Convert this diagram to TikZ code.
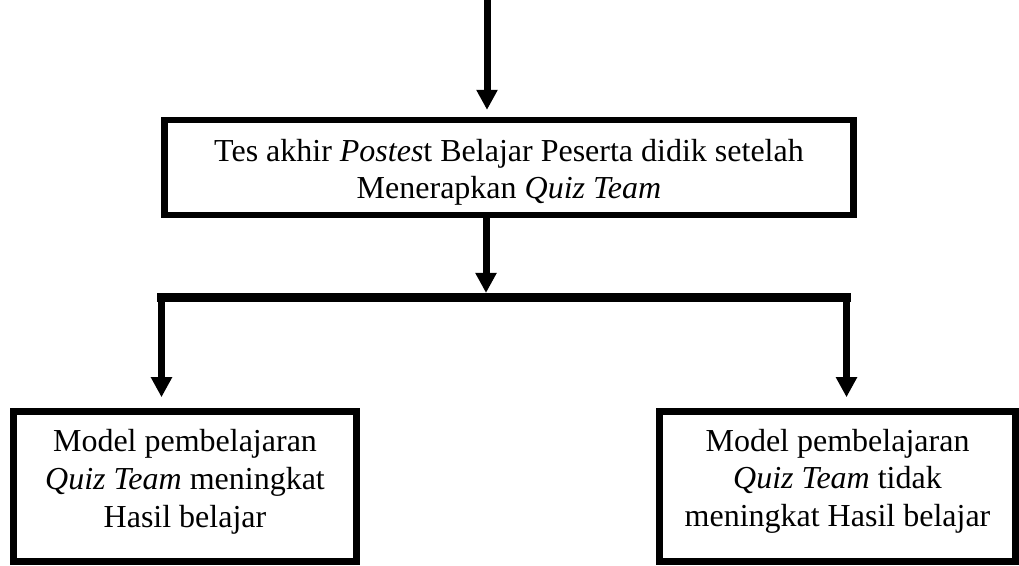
\documentclass[tikz,border=0pt]{standalone}
\usepackage{fontspec}
\setmainfont{Liberation Serif}
\usetikzlibrary{arrows.meta}
\tikzset{
  kotak/.style={draw, line width=4.9pt, align=center, inner sep=0pt,
    text depth=5pt, font=\fontsize{24}{28.2}\selectfont},
  panah/.style={line width=5.25pt, -{Triangle[width=15pt,length=15pt]}},
  garis/.style={line width=6.75pt, line cap=rect},
}
\begin{document}
\begin{tikzpicture}[x=0.75pt,y=0.75pt,yscale=-1,xscale=1]
\useasboundingbox (0,0) rectangle (1019,565);

% Kotak Posttest
\node[kotak, minimum width=517pt, minimum height=71pt, text height=51.65pt] (posttest) at (509,167.5)
  {Tes akhir \textit{Postes}t Belajar Peserta didik setelah\\ Menerapkan \textit{Quiz Team}};
% Kotak hasil
\node[kotak, minimum width=257pt, minimum height=112.5pt, text height=66pt] (naik) at (185,486.5)
  {Model pembelajaran\\ \textit{Quiz Team} meningkat\\ Hasil belajar};
\node[kotak, minimum width=267pt, minimum height=112.5pt, text height=65pt] (tidaknaik) at (837.5,486.5)
  {Model pembelajaran\\ \textit{Quiz Team} tidak\\ meningkat Hasil belajar};

% Titik bantu
\coordinate (mulai) at (487,0);
\coordinate (cabang) at (486,297.5);
\coordinate (kiri) at (161.5,297.5);
\coordinate (kanan) at (846.5,297.5);

% Panah
\draw[panah, shorten >=5.25pt] (mulai) -- (mulai |- posttest.north);
\draw[panah, shorten >=3.4pt] (posttest.south -| cabang) -- (cabang);
\draw[garis] (kiri) -- (kanan);
\draw[panah, shorten >=8.25pt] (kiri) -- (kiri |- naik.north);
\draw[panah, shorten >=8.25pt] (kanan) -- (kanan |- tidaknaik.north);
\end{tikzpicture}
\end{document}
